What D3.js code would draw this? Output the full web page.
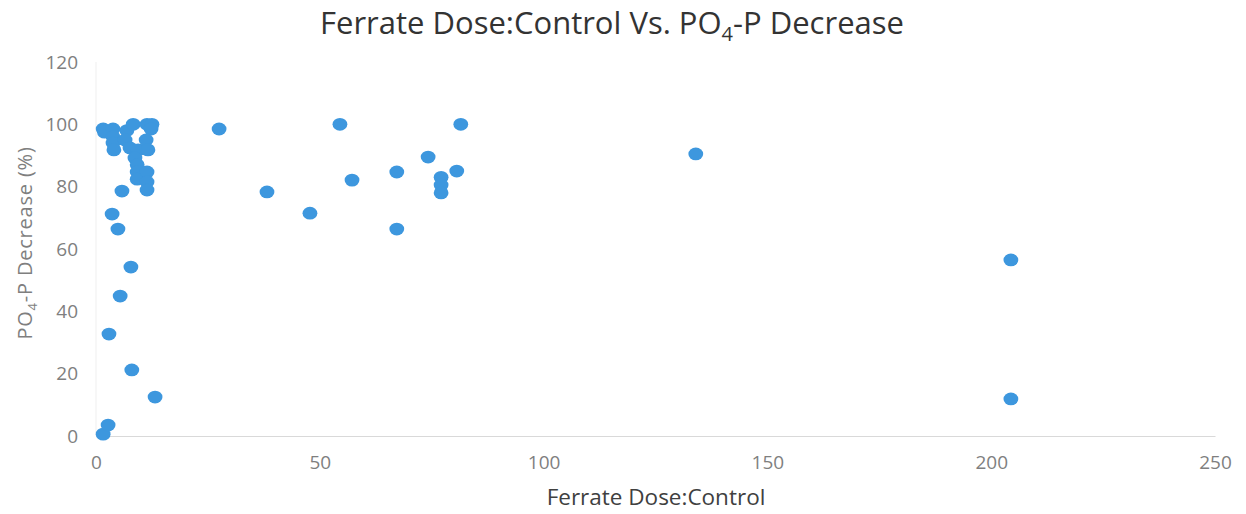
<!DOCTYPE html>
<html>
<head>
<meta charset="utf-8">
<script src="https://cdn.jsdelivr.net/npm/d3@7/dist/d3.min.js"></script>
<style>
  html, body { margin: 0; padding: 0; background: #ffffff; }
  svg { display: block; }
</style>
</head>
<body>
<script>
// Ferrate dose ratio (dose : control) for each test run
const doseRatio = [
  1.6, 2.7, 2.9, 8.0, 13.2, 5.4, 7.8, 4.9, 3.6, 5.8,
  204.4, 204.4, 134.0, 27.5, 38.2, 47.8, 54.5, 57.2, 67.2, 67.2,
  74.2, 81.5, 77.1, 77.1, 77.1, 80.6,
  1.6, 1.9, 3.8, 3.8, 3.8, 4.0, 6.9, 8.3, 11.4, 12.5,
  12.3, 6.5, 7.6, 9.4, 11.2, 11.6, 8.7, 9.2, 9.2, 9.2,
  11.4, 11.4, 11.4
];
// Matching PO4-P decrease (%)
const po4Decrease = [
  0.6, 3.5, 32.7, 21.2, 12.5, 44.9, 54.2, 66.4, 71.2, 78.6,
  56.5, 11.9, 90.5, 98.5, 78.3, 71.5, 100.0, 82.1, 84.7, 66.4,
  89.5, 100.0, 83.0, 80.5, 78.0, 85.0,
  98.5, 97.5, 98.5, 96.0, 94.0, 91.8, 98.0, 100.0, 100.0, 100.0,
  98.5, 95.0, 92.4, 91.8, 95.0, 91.8, 89.2, 87.0, 84.7, 82.4,
  84.7, 81.5, 78.9
];
const xTicks = [0, 50, 100, 150, 200, 250];
const yTicks = [0, 20, 40, 60, 80, 100, 120];

const W = 1246, H = 514;
const margin = { left: 96, right: 31, top: 62, bottom: 78 };

const svg = d3.select("body").append("svg")
  .attr("width", W).attr("height", H);

const x = d3.scaleLinear().domain([0, 250]).range([margin.left, W - margin.right]);
const y = d3.scaleLinear().domain([0, 120]).range([H - margin.bottom, margin.top]);

const font = "'Open Sans', 'Liberation Sans', sans-serif";

// Title with subscript
const title = svg.append("text")
  .attr("x", 612).attr("y", 34)
  .attr("text-anchor", "middle")
  .attr("font-family", font)
  .attr("font-size", 31)
  .attr("fill", "#333333");
title.append("tspan").text("Ferrate Dose:Control Vs. PO");
title.append("tspan").text("4").attr("font-size", 20).attr("dy", 7);
title.append("tspan").text("-P Decrease").attr("dy", -7);

// Faint left frame line
svg.append("line")
  .attr("x1", x(0)).attr("x2", x(0))
  .attr("y1", y(120)).attr("y2", y(0))
  .attr("stroke", "#efefef").attr("stroke-width", 1);

// X axis
const xAxis = svg.append("g")
  .attr("transform", `translate(0,${y(0)})`)
  .call(d3.axisBottom(x).tickValues(xTicks).tickSize(0).tickPadding(20));
xAxis.select(".domain").attr("stroke", "#d9d9d9").attr("stroke-width", 1.2);
xAxis.selectAll("text")
  .attr("font-family", font).attr("font-size", 19).attr("fill", "#7f7f7f");

// Y axis
const yAxis = svg.append("g")
  .attr("transform", `translate(${x(0)},0)`)
  .call(d3.axisLeft(y).tickValues(yTicks).tickSize(0).tickPadding(18));
yAxis.select(".domain").remove();
yAxis.selectAll("text")
  .attr("font-family", font).attr("font-size", 19).attr("fill", "#7f7f7f");

// Axis titles
svg.append("text")
  .attr("x", 656).attr("y", 505)
  .attr("text-anchor", "middle")
  .attr("font-family", font).attr("font-size", 22.5)
  .attr("fill", "#404040")
  .text("Ferrate Dose:Control");

const yTitle = svg.append("text")
  .attr("transform", `translate(32,${(y(0) + y(120)) / 2 - 6}) rotate(-90)`)
  .attr("text-anchor", "middle")
  .attr("font-family", font).attr("font-size", 20)
  .attr("letter-spacing", 0.8)
  .attr("fill", "#7f7f7f");
yTitle.append("tspan").text("PO");
yTitle.append("tspan").text("4").attr("font-size", 13).attr("dy", 5);
yTitle.append("tspan").text("-P Decrease (%)").attr("dy", -5);

// Data points
const pts = doseRatio.map((d, i) => ({ dose: d, dec: po4Decrease[i] }));
svg.append("g").selectAll("ellipse")
  .data(pts).enter().append("ellipse")
  .attr("cx", d => x(d.dose))
  .attr("cy", d => y(d.dec))
  .attr("rx", 7.4).attr("ry", 6.4)
  .attr("fill", "#3d97de");
</script>
</body>
</html>
